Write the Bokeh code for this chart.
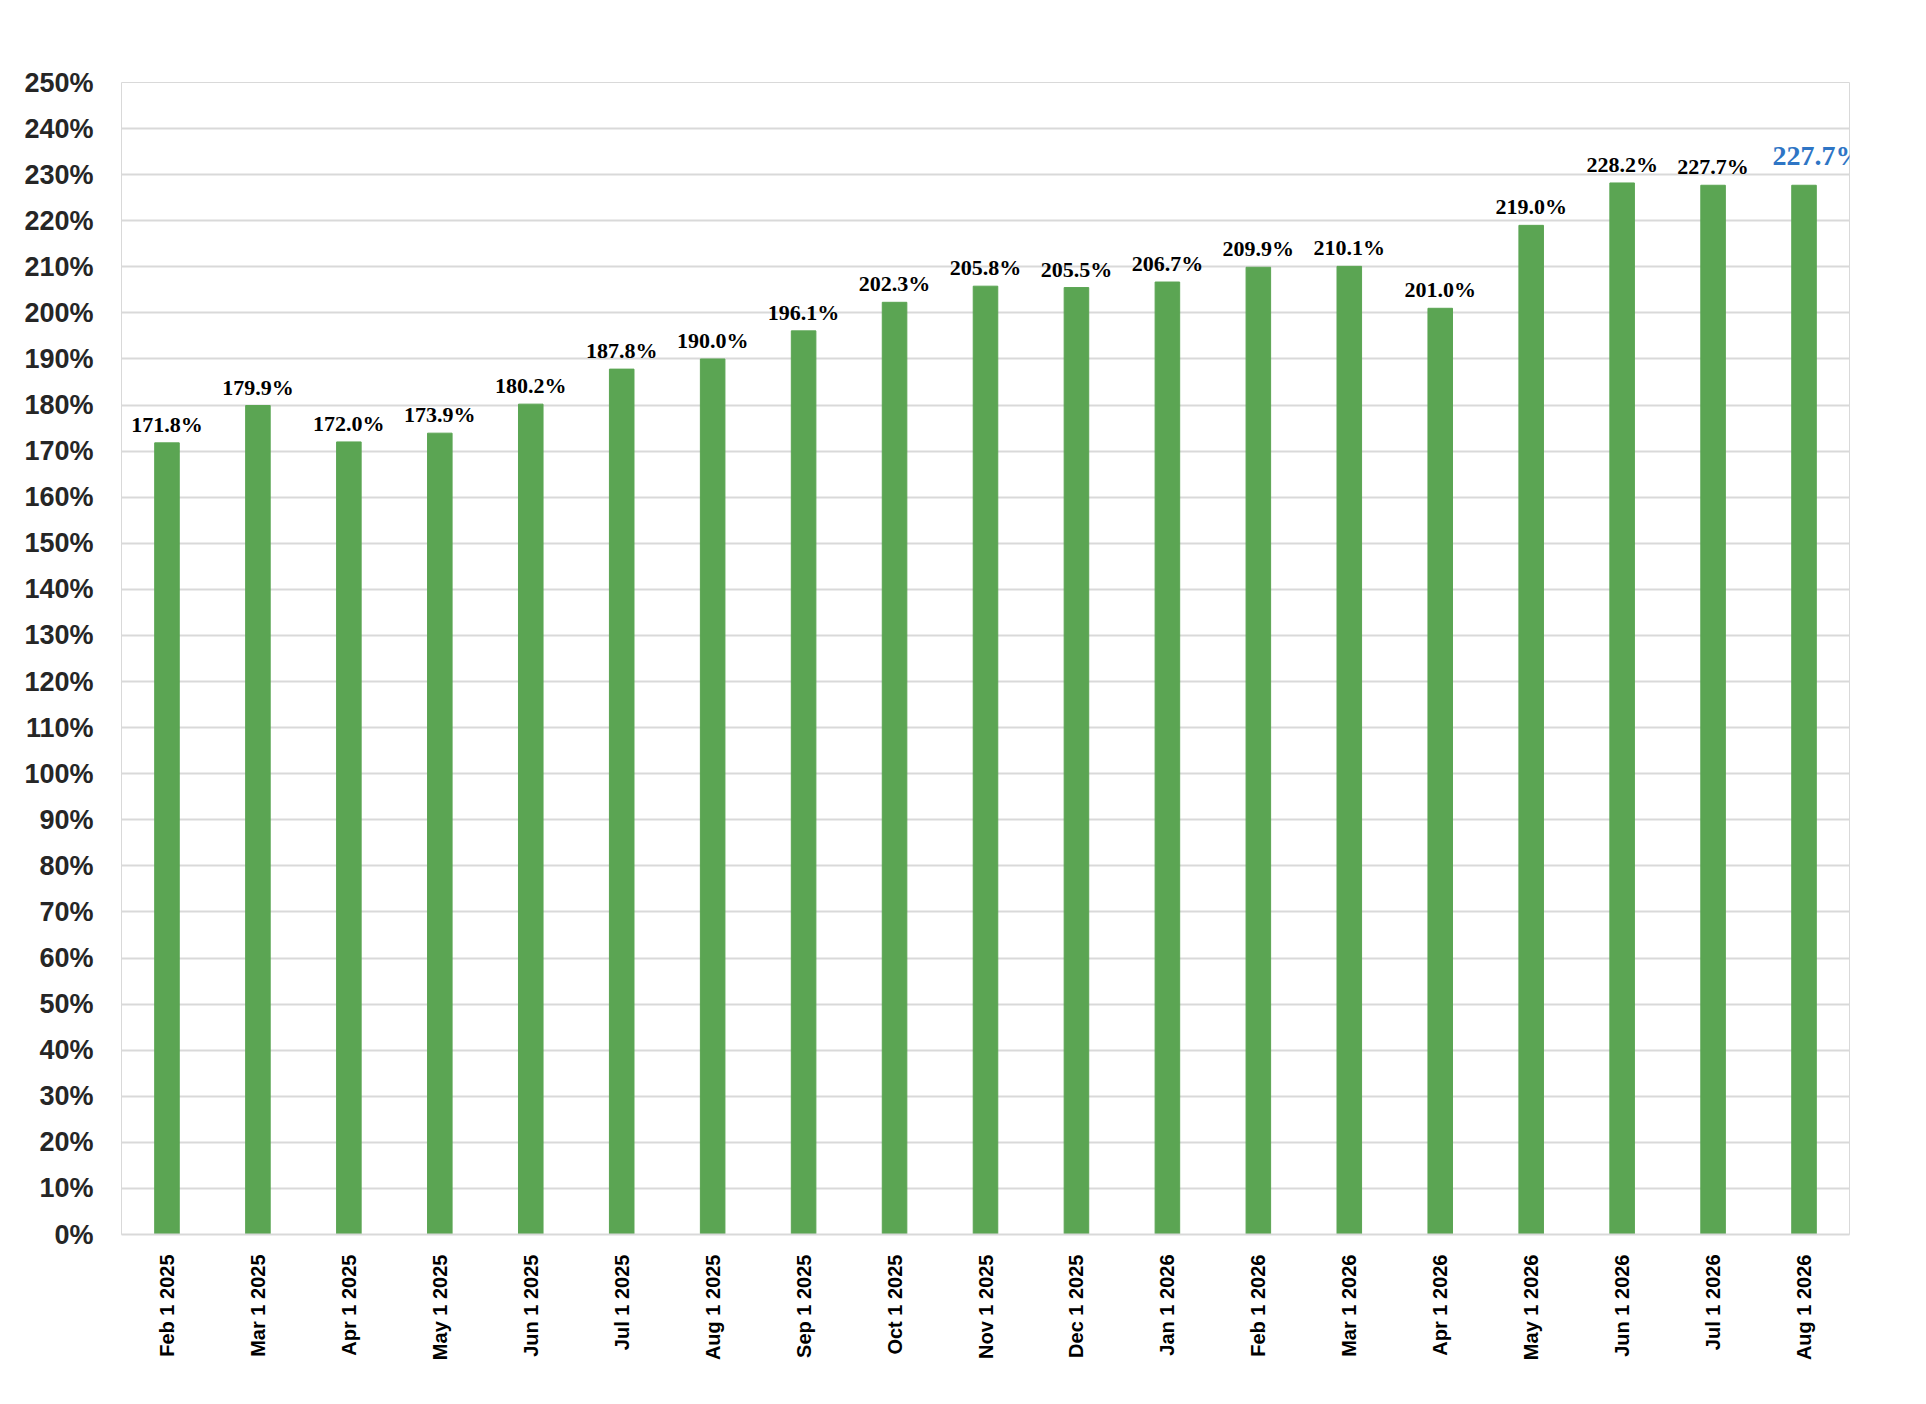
from bokeh.plotting import figure
from bokeh.models import ColumnDataSource, FixedTicker, Range1d, LabelSet
from bokeh.embed import file_html
from bokeh.resources import INLINE
from bokeh.core.properties import value

months = ["Feb 1 2025","Mar 1 2025","Apr 1 2025","May 1 2025","Jun 1 2025","Jul 1 2025",
          "Aug 1 2025","Sep 1 2025","Oct 1 2025","Nov 1 2025","Dec 1 2025","Jan 1 2026",
          "Feb 1 2026","Mar 1 2026","Apr 1 2026","May 1 2026","Jun 1 2026","Jul 1 2026","Aug 1 2026"]
vals = [171.8,179.9,172.0,173.9,180.2,187.8,190.0,196.1,202.3,205.8,205.5,206.7,
        209.9,210.1,201.0,219.0,228.2,227.7,227.7]
yticks = list(range(0, 251, 10))

p = figure(x_range=months, y_range=Range1d(0, 250), width=1910, height=1386,
           output_backend="svg", toolbar_location=None,
           min_border_left=121, min_border_right=61, min_border_top=82, min_border_bottom=152)
p.outline_line_color = "#d9d9d9"
p.border_fill_color = "white"

src = ColumnDataSource(dict(x=months[:-1], y=vals[:-1], t=[f"{v:.1f}%" for v in vals[:-1]]))
p.vbar(x=months, top=vals, width=0.27, color="#5BA553")

p.add_layout(LabelSet(x="x", y="y", text="t", source=src, text_align="center",
                      text_baseline="bottom", y_offset=6, text_font="Liberation Sans",
                      text_font_style="bold", text_font_size="22px", text_color="black"))
src2 = ColumnDataSource(dict(x=[months[-1]], y=[vals[-1]], t=[f"{vals[-1]:.1f}%"]))
p.add_layout(LabelSet(x="x", y="y", text="t", source=src2, text_align="center",
                      text_baseline="bottom", x_offset=14, y_offset=14, text_font="Liberation Sans",
                      text_font_style="bold", text_font_size="28px", text_color="#2E75C5"))

p.yaxis.ticker = FixedTicker(ticks=yticks)
p.yaxis.major_label_overrides = {t: f"{t}%" for t in yticks}
p.yaxis.axis_line_color = None
p.yaxis.major_tick_line_color = None
p.yaxis.minor_tick_line_color = None
p.yaxis.major_label_text_font = "Liberation Sans"
p.yaxis.major_label_text_font_style = "bold"
p.yaxis.major_label_text_font_size = "27px"
p.yaxis.major_label_text_color = "#262626"
p.yaxis.major_label_standoff = 22

p.xaxis.axis_line_color = "#d9d9d9"
p.xaxis.axis_line_width = 2
p.xaxis.major_tick_line_color = None
p.xaxis.major_label_orientation = 1.5708
p.xaxis.major_label_text_font = "Liberation Sans"
p.xaxis.major_label_text_font_style = "bold"
p.xaxis.major_label_text_font_size = "20px"
p.xaxis.major_label_text_color = "black"
p.xaxis.major_label_standoff = 14

p.xgrid.grid_line_color = None
p.ygrid.grid_line_color = "#d9d9d9"
p.ygrid.grid_line_width = 2

open("out.html", "w").write(file_html(p, INLINE))
